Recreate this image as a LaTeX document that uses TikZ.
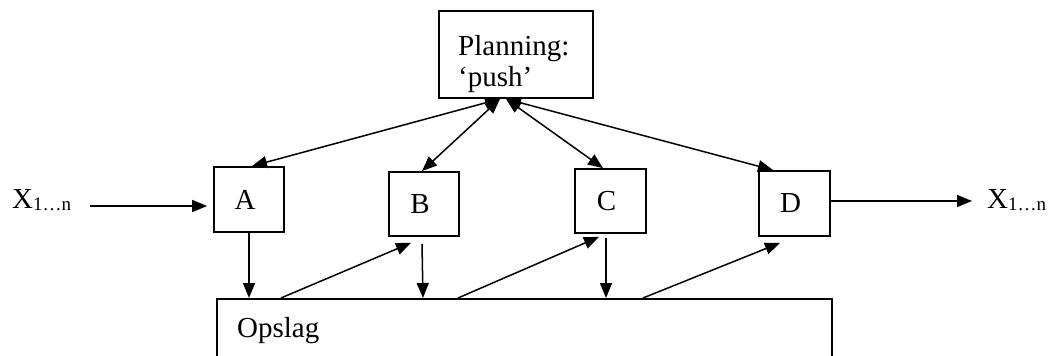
\documentclass[tikz,border=0pt]{standalone}
\usepackage{fontspec}
\setmainfont{Liberation Serif}
\usetikzlibrary{arrows.meta,calc}
\begin{document}
\begin{tikzpicture}[x=1pt,y=-1pt,
  bigfont/.style={font=\fontsize{29}{34}\selectfont},
  box/.style={draw,line width=1.8pt,minimum width=70pt,minimum height=65pt,inner sep=0pt},
  lbl/.style={bigfont,xshift=-4pt},
  txt/.style={inner sep=0pt,anchor=base west,bigfont},
  arr/.style={line width=1.5pt,-{Triangle[length=15pt,width=12pt]}},
  darr/.style={line width=1.5pt,{Triangle[length=15pt,width=12pt]}-{Triangle[length=15pt,width=12pt]}}]
\useasboundingbox (0,0) rectangle (1052,356);
\clip (0,0) rectangle (1052,356);
% planning box
\node[box,minimum width=154pt,minimum height=87pt] (P) at (516,54.5) {};
\node[txt] (P1) at (458,55) {Planning:};
\node[txt] (P2) at (458,86) {‘push’};
% process boxes
\node[box,label={[lbl]center:A}] (A) at (249,199.5) {};
\node[box,minimum height=64pt,label={[lbl]center:B}] (B) at (424,204) {};
\node[box,minimum width=71pt,minimum height=64pt,label={[lbl]center:C}] (C) at (610.5,201) {};
\node[box,minimum width=71pt,label={[lbl]center:D}] (D) at (794.5,203.5) {};
% storage
\node[box,anchor=north west,minimum width=615pt,minimum height=100pt] (O) at (216,298) {};
\node[txt] (Otxt) at (237,337) {Opslag};
% in / out labels
\node[txt] (Xin) at (12,208) {X\raisebox{-2pt}{\fontsize{19}{19}\selectfont 1…n}};
\node[txt] (Xout) at (987,208) {X\raisebox{-2pt}{\fontsize{19}{19}\selectfont 1…n}};
\coordinate (inS) at (90,206);
\coordinate (outE) at (972,201);
% input and output
\draw[arr,shorten >=6pt] (inS) -- (inS -| A.west);
\draw[arr] ($(D.east)+(0,-2.5)$) -- (outE);
% planning links
\draw[darr] ($(P.south)+(-16,0)$) -- ($(A.north)+(3,0)$);
\draw[darr] ($(P.south)+(-16,0)$) -- ($(B.north)+(-2,0)$);
\draw[darr] ($(P.south)+(-10,0)$) -- ($(C.north)+(-7.5,0)$);
\draw[darr] ($(P.south)+(-10,0)$) -- ($(D.north)+(-21.5,0)$);
% down to storage
\draw[arr] (A.south) -- (A.south |- O.north);
\draw[arr] ($(B.south)+(-2,7)$) -- ($(B.south |- O.north)+(-1,0)$);
\draw[arr] ($(C.south)+(-4.5,4)$) -- ($(C.south |- O.north)+(-4.5,0)$);
% up from storage
\draw[arr] ($(O.north west)+(65,0)$) -- ($(B.south)+(-13,6)$);
\draw[arr] ($(O.north west)+(242,0)$) -- ($(C.south)+(-11.5,3)$);
\draw[arr] ($(O.north west)+(427,0)$) -- ($(D.south)+(-14.5,6)$);
\end{tikzpicture}
\end{document}
